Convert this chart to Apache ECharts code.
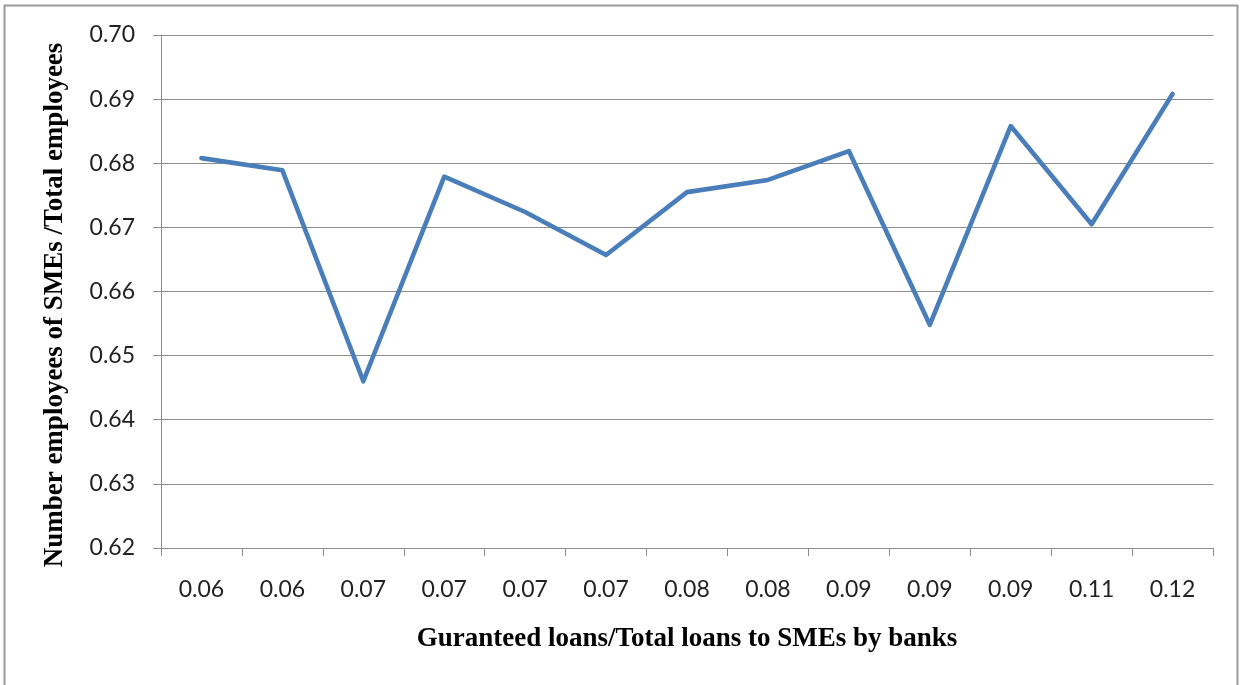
<!DOCTYPE html>
<html>
<head>
<meta charset="utf-8">
<script src="https://cdn.jsdelivr.net/npm/echarts@6/dist/echarts.min.js"></script>
<style>
  html, body { margin: 0; padding: 0; background: #fff; }
  #chart { width: 1241px; height: 685px; }
</style>
</head>
<body>
<div id="chart"></div>
<script>
// Share of guaranteed loans (category labels) vs. SME employment share
const categories = ['0.06', '0.06', '0.07', '0.07', '0.07', '0.07', '0.08', '0.08', '0.09', '0.09', '0.09', '0.11', '0.12'];
const smeEmployeeShare = [0.6808, 0.6789, 0.6460, 0.6779, 0.6724, 0.6657, 0.6755, 0.6774, 0.6819, 0.6548, 0.6858, 0.6705, 0.6908];
const yTicks = { min: 0.62, max: 0.70, step: 0.01 };

const xTitle = 'Guranteed loans/Total loans to SMEs by banks';
const yTitle = 'Number employees of SMEs /Total employees';

const axisGray = '#8c8c8c';
const labelFont = 'Lato, "Open Sans", sans-serif';
const titleFont = '"Liberation Serif", "DejaVu Serif", serif';

const chart = echarts.init(document.getElementById('chart'), null, { renderer: 'canvas' });

chart.setOption({
  backgroundColor: '#ffffff',
  animation: false,
  grid: { left: 161, right: 28, top: 35, bottom: 137, containLabel: false },
  xAxis: {
    type: 'category',
    data: categories,
    boundaryGap: true,
    name: xTitle,
    nameLocation: 'middle',
    nameGap: 78,
    nameTextStyle: { fontFamily: titleFont, fontWeight: 'bold', fontSize: 27, color: '#000' },
    axisLine: { show: true, lineStyle: { color: axisGray, width: 1 } },
    axisTick: { show: true, interval: 0, length: 8, lineStyle: { color: axisGray } },
    axisLabel: { interval: 0, margin: 30, fontFamily: labelFont, fontSize: 23, color: '#222' },
    splitLine: { show: false }
  },
  yAxis: {
    type: 'value',
    min: yTicks.min,
    max: yTicks.max,
    interval: yTicks.step,
    axisLine: { show: true, lineStyle: { color: axisGray, width: 1 } },
    axisTick: { show: true, length: 8, lineStyle: { color: axisGray } },
    axisLabel: {
      margin: 26,
      fontFamily: labelFont, fontSize: 23, color: '#222',
      formatter: v => v.toFixed(2)
    },
    splitLine: { show: true, lineStyle: { color: axisGray, width: 1 } }
  },
  graphic: [
    // outer frame (left, top, right edges)
    { type: 'line', shape: { x1: 4.5, y1: 5, x2: 4.5, y2: 685 }, style: { stroke: '#9a9a9a', lineWidth: 2 } },
    { type: 'line', shape: { x1: 4, y1: 5.5, x2: 1238, y2: 5.5 }, style: { stroke: '#9a9a9a', lineWidth: 2 } },
    { type: 'line', shape: { x1: 1237.5, y1: 5, x2: 1237.5, y2: 685 }, style: { stroke: '#9a9a9a', lineWidth: 2 } },
    // vertical axis title
    {
      type: 'text',
      x: 55, y: 305,
      rotation: Math.PI / 2,
      style: {
        text: yTitle,
        fontFamily: titleFont, fontWeight: 'bold', fontSize: 27,
        fill: '#000', align: 'center', verticalAlign: 'middle'
      }
    }
  ],
  series: [{
    type: 'line',
    data: smeEmployeeShare,
    symbol: 'none',
    lineStyle: { color: '#4a7ebb', width: 4.6, join: 'round', cap: 'round' },
    itemStyle: { color: '#4a7ebb' }
  }]
});
</script>
</body>
</html>
